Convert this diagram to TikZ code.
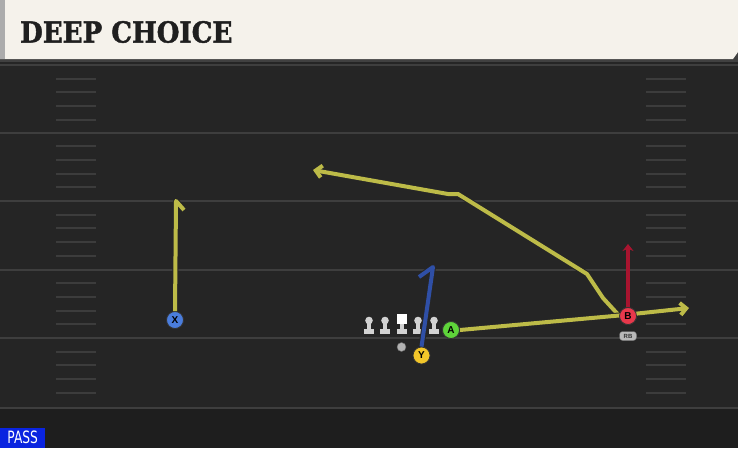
\documentclass[tikz,border=0pt]{standalone}
\usepackage{fontspec}
\newfontfamily\titlefont{DejaVu Serif}[FakeStretch=0.9,FakeBold=1.5]
\newfontfamily\labfont{Liberation Sans}
\newfontfamily\passfont{DejaVu Sans}[FakeStretch=0.72]
\usetikzlibrary{arrows.meta}
\definecolor{fieldbg}{HTML}{252525}
\definecolor{lowbg}{HTML}{1E1E1E}
\definecolor{yardline}{HTML}{3E3E3E}
\definecolor{hashc}{HTML}{3C3C3C}
\definecolor{hdr}{HTML}{F5F2EB}
\definecolor{rtyellow}{HTML}{BDBB48}
\definecolor{rtblue}{HTML}{2F4FA6}
\definecolor{rtred}{HTML}{A8142F}
\definecolor{cX}{HTML}{4A7DDC}
\definecolor{cY}{HTML}{F2C62A}
\definecolor{cA}{HTML}{5ED43A}
\definecolor{cB}{HTML}{E8384B}
\definecolor{linec}{HTML}{D2D2D2}
\definecolor{passblue}{HTML}{0A24E0}
\tikzset{
  x=1pt,y=-1pt,
  player/.style={circle,draw=black!80,line width=0.8pt,minimum size=17pt,inner sep=0pt,font=\labfont\bfseries\fontsize{10}{10}\selectfont},
  routeout/.style={line width=6pt,draw=black!85,line join=round},
  route/.style={line width=4pt,line join=round},
  tipY/.style={-{Straight Barb[length=6pt,width=12pt]}},
  hashm/.style={draw=hashc,line width=2pt},
  yard/.style={draw=yardline,line width=2pt},
}
\newcommand{\lineman}[2]{%
  \fill[linec] (#1-2,#2+3) rectangle (#1+2,#2+13);
  \fill[linec] (#1-5,#2+12) rectangle (#1+5,#2+17);
  \fill[linec] (#1,#2+3.5) circle (3.8);}
\begin{document}
\begin{tikzpicture}
\useasboundingbox (0,0) rectangle (738,448);
\fill[fieldbg] (0,0) rectangle (738,448);
\fill[lowbg] (0,408) rectangle (738,448);
% yard lines
\foreach \yy in {65,132.5,201,269.5,338} {\draw[yard] (0,\yy) -- (738,\yy);}
\draw[draw=yardline,line width=2pt] (0,408) -- (738,408);
% hash marks
\foreach \yy in {65,132.5,201,269.5,338} {
  \foreach \k in {1,2,3,4} {
    \draw[hashm] (56,\yy+\k*13.7) -- (96,\yy+\k*13.7);
    \draw[hashm] (646,\yy+\k*13.7) -- (686,\yy+\k*13.7);
  }}
% header
\fill[black!75] (0,0) rectangle (738,62);
\fill[hdr] (0,0) -- (738,0) -- (738,52) -- (733,59) -- (0,59) -- cycle;
\fill[gray!65] (0,0) rectangle (4.5,59);
\node[anchor=west,inner sep=0pt,text=black!88] (title) at (20,32) {\titlefont\bfseries\fontsize{29}{29}\selectfont DEEP CHOICE};
% offensive line
\lineman{369}{317}
\lineman{385}{317}
\fill[linec] (399.5,321) rectangle (403.5,330);
\fill[linec] (396.5,329) rectangle (406.5,334);
\fill[white] (396.5,314) rectangle (406.5,324);
\lineman{418}{317}
\lineman{434}{317}
\node[circle,fill=gray!60,draw=black!60,minimum size=9pt,inner sep=0pt] (qb) at (401.5,347) {};
% players
\node[player,fill=cX] (X) at (175,320) {X};
\node[player,fill=cY] (Y) at (421.5,355.5) {Y};
\node[player,fill=cA] (A) at (451,330) {A};
\node[player,fill=cB] (B) at (628,316) {B};
\node[fill=gray!55,draw=black!60,rounded corners=3pt,inner xsep=2pt,inner ysep=1.5pt,minimum width=17pt,minimum height=9pt,font=\labfont\bfseries\fontsize{6}{6}\selectfont,text=black!80] (rb) at (628,336) {RB};
% routes
\coordinate (xtop) at (176,201);
\coordinate (xend) at (184,210);
\coordinate (ytop) at (433,267);
\coordinate (yend) at (419,277);
\coordinate (split) at (619,315.5);
\coordinate (flat) at (689,308);
\coordinate (d1) at (603,298);
\coordinate (d2) at (587,274);
\coordinate (d3) at (458,194);
\coordinate (d4) at (448,194);
\coordinate (deep) at (313,170);
\coordinate (btop) at (628,244);
% X route
\draw[routeout] (X.north) -- (xtop) -- (xend);
\draw[route,draw=rtyellow] (X.north) -- (xtop) -- (xend);
% deep route
\draw[routeout,tipY] (split) -- (d1) -- (d2) -- (d3) -- (d4) -- (deep);
\draw[route,draw=rtyellow,tipY] (split) -- (d1) -- (d2) -- (d3) -- (d4) -- (deep);
% A route flat
\draw[routeout,tipY] (A.east) -- (split) -- (flat);
\draw[route,draw=rtyellow,tipY] (A.east) -- (split) -- (flat);
% Y route
\draw[routeout] (Y.north) -- (ytop) -- (yend);
\draw[route,draw=rtblue] (Y.north) -- (ytop) -- (yend);
% B route
\draw[line width=4pt,draw=rtred,-{Stealth[length=7pt,width=11pt]}] (B.north) -- (btop);
\node[player,fill=cB] at (B) {B};
\node[player,fill=cA] at (A) {A};
% PASS tag
\node[fill=passblue,text=white,anchor=south west,inner xsep=2pt,inner ysep=2pt,minimum height=20pt,minimum width=45pt,font=\passfont\fontsize{17}{17}\selectfont] (pass) at (0,448) {PASS};
\end{tikzpicture}
\end{document}
